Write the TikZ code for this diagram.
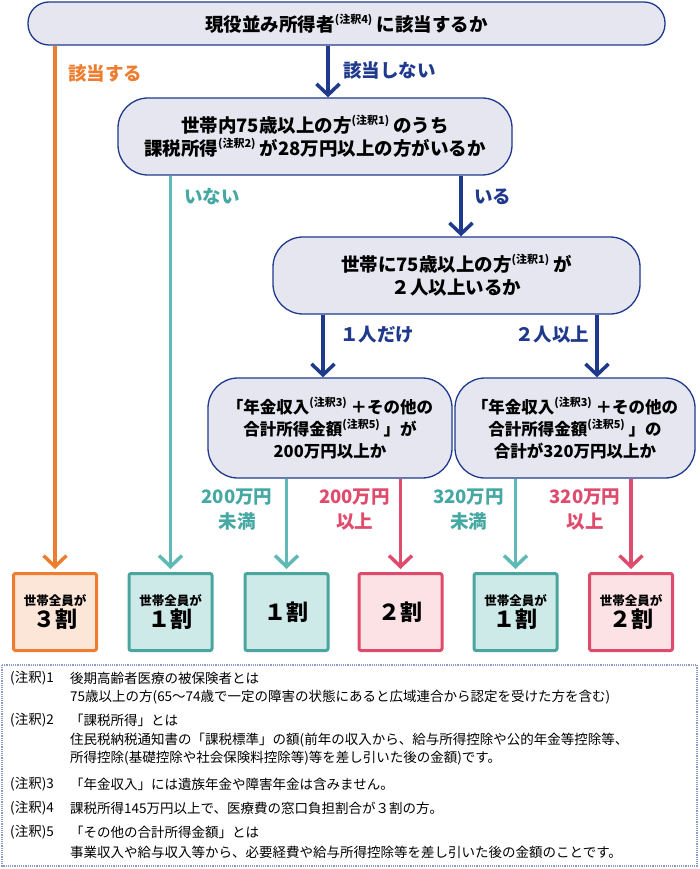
\documentclass[tikz,border=0pt]{standalone}
\usepackage{fontspec}
\setmainfont{Noto Sans CJK JP}
\usetikzlibrary{arrows.meta}
\definecolor{qline}{HTML}{1F3A8C}
\definecolor{qfill}{HTML}{E6E6F0}
\definecolor{orgline}{HTML}{EE7D30}
\definecolor{orgfill}{HTML}{FCE6D8}
\definecolor{tealline}{HTML}{5FBAB5}
\definecolor{tealbox}{HTML}{4BA59F}
\definecolor{tealtext}{HTML}{45A8A2}
\definecolor{tealfill}{HTML}{CDE9E8}
\definecolor{redline}{HTML}{DF4B6C}
\definecolor{redfill}{HTML}{FCE1E5}
\definecolor{noteline}{HTML}{8C9BC8}
\newcommand\chu[1]{\raisebox{.42em}{\fontsize{11}{11}\selectfont(注釈#1)}}
\tikzset{
  ask/.style={draw=qline,fill=qfill,line width=1.3pt,rounded corners=30pt,
    align=center,inner sep=0pt,font=\fontsize{18.5}{23}\selectfont\bfseries},
  res/.style={line width=3pt,rounded corners=2pt,minimum width=83pt,
    minimum height=77pt,inner sep=0pt,align=center,font=\bfseries},
  orgres/.style={res,draw=orgline,fill=orgfill},
  tealres/.style={res,draw=tealbox,fill=tealfill},
  redres/.style={res,draw=redline,fill=redfill},
  barb/.style={line width=3.5pt,shorten >=3pt,
    -{Straight Barb[length=11pt,width=23pt]}},
  lab/.style={font=\fontsize{18.5}{25}\selectfont\bfseries,inner sep=0pt,align=center},
  ntxt/.style={anchor=west,inner sep=0pt,font=\fontsize{13.5}{15}\selectfont}
}
\newcommand\small割[1]{{\fontsize{12.5}{14}\selectfont 世帯全員が}\\[2pt]{\fontsize{22}{26}\selectfont #1}}
\begin{document}
\begin{tikzpicture}[x=1pt,y=-1pt]
\useasboundingbox (0,0) rectangle (700,869);
% questions
\node[ask,rounded corners=21pt,minimum width=637pt,minimum height=43pt] (q1) at (346.5,23.5)
  {現役並み所得者\chu{4} に該当するか};
\node[ask,minimum width=394pt,minimum height=77pt] (q2) at (315,136.5)
  {世帯内75歳以上の方\chu{1} のうち\\課税所得\chu{2} が28万円以上の方がいるか};
\node[ask,minimum width=367pt,minimum height=77pt] (q3) at (456.5,275.5)
  {世帯に75歳以上の方\chu{1} が\\２人以上いるか};
\node[ask,minimum width=244pt,minimum height=100pt,font=\fontsize{16.5}{22}\selectfont\bfseries] (q4) at (330,428)
  {「年金収入\chu{3} ＋その他の\\合計所得金額\chu{5} 」が\\200万円以上か};
\node[ask,minimum width=240pt,minimum height=100pt,font=\fontsize{16.5}{22}\selectfont\bfseries] (q5) at (575,428)
  {「年金収入\chu{3} ＋その他の\\合計所得金額\chu{5} 」の\\合計が320万円以上か};
% results
\node[orgres]  (r1) at (55,612)    {\small割{３割}};
\node[tealres] (r2) at (170.5,612) {\small割{１割}};
\node[tealres] (r3) at (286.5,612) {\fontsize{22}{26}\selectfont １割};
\node[redres]  (r4) at (400.5,612) {\fontsize{22}{26}\selectfont ２割};
\node[tealres] (r5) at (515.5,612) {\small割{１割}};
\node[redres]  (r6) at (631,612)   {\small割{２割}};
% arrows
\coordinate (a1) at (328,0);
\coordinate (a2) at (461,0);
\coordinate (a3) at (323,0);
\coordinate (a4) at (597,0);
\draw[barb,orgline]  (q1.south -| r1.north) -- (r1.north);
\draw[barb,qline,shorten >=0pt] (q1.south -| a1) -- (q2.north -| a1);
\draw[barb,tealline] (q2.south -| r2.north) -- (r2.north);
\draw[barb,qline,shorten >=0pt] (q2.south -| a2) -- (q3.north -| a2);
\draw[barb,qline,shorten >=0pt] (q3.south -| a3) -- (q4.north -| a3);
\draw[barb,qline,shorten >=0pt] (q3.south -| a4) -- (q5.north -| a4);
\draw[barb,tealline] (q4.south -| r3.north) -- (r3.north);
\draw[barb,redline]  (q4.south -| r4.north) -- (r4.north);
\draw[barb,tealline] (q5.south -| r5.north) -- (r5.north);
\draw[barb,redline]  (q5.south -| r6.north) -- (r6.north);
% labels
\node[lab,anchor=west,text=orgline] (l1) at (68,73) {該当する};
\node[lab,anchor=west,text=qline] (l2) at (343,70) {該当しない};
\node[lab,anchor=west,text=tealtext] (l3) at (184,197) {いない};
\node[lab,anchor=west,text=qline] (l4) at (474,197) {いる};
\node[lab,anchor=west,text=qline] (l5) at (340,335) {１人だけ};
\node[lab,anchor=west,text=qline] (l6) at (515,335) {２人以上};
\node[lab,text=tealtext] (l7) at (237,510) {200万円\\未満};
\node[lab,text=redline] (l8) at (354.5,510) {200万円\\以上};
\node[lab,text=tealtext] (l9) at (468.5,510) {320万円\\未満};
\node[lab,text=redline] (l10) at (585,510) {320万円\\以上};
% notes
\draw[noteline,line width=1.2pt,densely dotted] (2,665) rectangle (697,866);
\node[ntxt] (n1) at (10,678) {(注釈)1};
\node[ntxt] (n1a) at (70,678) {後期高齢者医療の被保険者とは};
\node[ntxt] (n1b) at (70,697) {75歳以上の方(65～74歳で一定の障害の状態にあると広域連合から認定を受けた方を含む)};
\node[ntxt] (n2) at (10,720) {(注釈)2};
\node[ntxt] (n2a) at (70,720) {「課税所得」とは};
\node[ntxt] (n2b) at (70,740) {住民税納税通知書の「課税標準」の額(前年の収入から、給与所得控除や公的年金等控除等、};
\node[ntxt] (n2c) at (70,758) {所得控除(基礎控除や社会保険料控除等)等を差し引いた後の金額)です。};
\node[ntxt] (n3) at (10,784) {(注釈)3};
\node[ntxt] (n3a) at (70,784) {「年金収入」には遺族年金や障害年金は含みません。};
\node[ntxt] (n4) at (10,808) {(注釈)4};
\node[ntxt] (n4a) at (70,808) {課税所得145万円以上で、医療費の窓口負担割合が３割の方。};
\node[ntxt] (n5) at (10,832) {(注釈)5};
\node[ntxt] (n5a) at (70,832) {「その他の合計所得金額」とは};
\node[ntxt] (n5b) at (70,852) {事業収入や給与収入等から、必要経費や給与所得控除等を差し引いた後の金額のことです。};
\end{tikzpicture}
\end{document}
